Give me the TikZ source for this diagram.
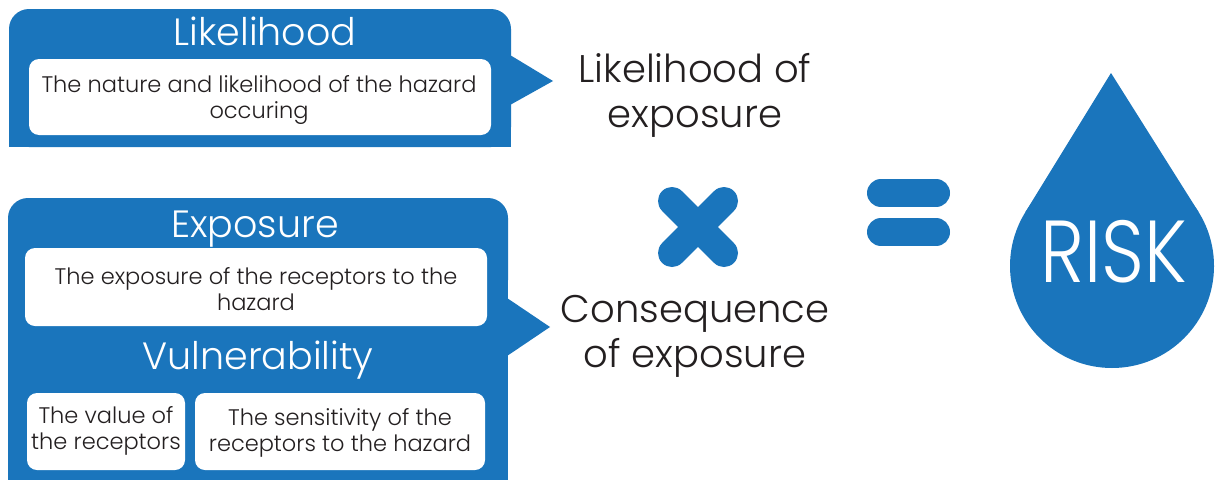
\documentclass[tikz,border=0pt]{standalone}
\usepackage{fontspec}
\usetikzlibrary{calc}
\IfFontExistsTF{Poppins Light}{\setmainfont{Poppins Light}}{\setmainfont{Poppins}}
\definecolor{riskblue}{RGB}{26,117,188}
\definecolor{ink}{RGB}{35,31,32}
\begin{document}
\begin{tikzpicture}[x=1pt,y=-1pt,
  panel/.style={fill=riskblue},
  card/.style={fill=white, rounded corners=10pt},
  title/.style={text=white, anchor=base, inner sep=0pt, font=\fontsize{38}{44}\selectfont},
  body/.style={text=ink, align=center, inner sep=0pt, font=\fontsize{22.5}{25.5}\selectfont},
  big/.style={text=ink, align=center, inner sep=0pt, font=\fontsize{38.5}{45}\selectfont},
  sign/.style={draw=riskblue, line width=28pt, line cap=round},
]
\useasboundingbox (0,0) rectangle (1225,479);
\fill[white] (0,0) rectangle (1225,479);

% Likelihood panel with its pointer
\fill[panel, rounded corners=20pt] (9,9) rectangle (511,147);
\fill[panel] (9,60) rectangle (511,147);
\fill[panel] (510,55) -- (553,81) -- (510,105) -- cycle;
\fill[card] (29,59) rectangle (491,135);
\node[title] (tlik) at (265,45) {Likelihood};
\node[body] (dlik) at (259,100) {The nature and likelihood of the hazard\\occuring};

% Exposure / vulnerability panel with its pointer
\fill[panel, rounded corners=20pt] (8,198) rectangle (508,300);
\fill[panel] (8,250) rectangle (508,482);
\fill[panel] (507,298) -- (550,327) -- (507,356) -- cycle;
\fill[card] (25,248) rectangle (487,326);
\fill[card] (27,393) rectangle (185,470);
\fill[card] (195,393) rectangle (485,470);
\node[title] (texp) at (255,237) {Exposure};
\node[body] (dexp) at (256,289) {The exposure of the receptors to the\\hazard};
\node[title] (tvul) at (258,369) {Vulnerability};
\node[body] (dval) at (106,431) {The value of\\the receptors};
\node[body] (dsen) at (340,433) {The sensitivity of the\\receptors to the hazard};

% Results of each panel
\node[big] (lexp) at (695,95) {Likelihood of\\exposure};
\node[big] (cexp) at (695,336) {Consequence\\of exposure};

% Multiplication and equals signs
\coordinate (x) at (698,227);
\draw[sign] ($(x)+(-26,-26)$) -- ($(x)+(26,26)$);
\draw[sign] ($(x)+(-26,26)$) -- ($(x)+(26,-26)$);
\draw[sign] (881,193) -- (936,193);
\draw[sign] (881,232) -- (936,232);

% Drop
\fill[riskblue] (1112,266) circle[radius=102];
\fill[riskblue] (1111,73) -- (1198.6,212.1) -- (1025.4,212.1) -- cycle;
\node[text=white, inner sep=0pt, xscale=0.85, font=\fontsize{88}{90}\selectfont] (risk) at (1114,252) {RISK};
\end{tikzpicture}
\end{document}
